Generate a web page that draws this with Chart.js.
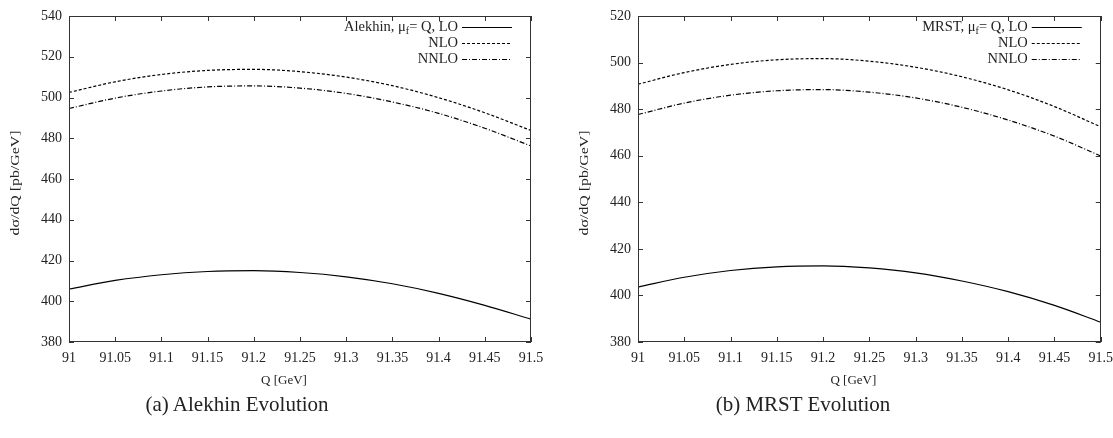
<!DOCTYPE html>
<html>
<head>
<meta charset="utf-8">
<script src="https://cdn.jsdelivr.net/npm/chart.js@4.4.0/dist/chart.umd.min.js"></script>
<style>
  body { margin: 0; background: #fff; width: 1113px; height: 438px; overflow: hidden; position: relative; font-family: "Liberation Serif", serif; }
  .box { position: absolute; top: 0; height: 400px; }
  #boxA { left: 0; width: 556px; }
  #boxB { left: 569px; width: 552px; }
  .cap { position: absolute; top: 392px; font-size: 21px; color: #222; transform: translateX(-50%); white-space: nowrap; }
</style>
</head>
<body>
<div class="box" id="boxA"><canvas id="chartA"></canvas></div>
<div class="box" id="boxB"><canvas id="chartB"></canvas></div>
<div class="cap" style="left:237px">(a) Alekhin Evolution</div>
<div class="cap" style="left:803px">(b) MRST Evolution</div>
<script>
// Q values (GeV) where the curves were read
const qValues = [91, 91.05, 91.1, 91.15, 91.2, 91.25, 91.3, 91.35, 91.4, 91.45, 91.5];
const qTicks = [91, 91.05, 91.1, 91.15, 91.2, 91.25, 91.3, 91.35, 91.4, 91.45, 91.5];

// Alekhin evolution
const alekhinLO   = [406.0, 410.2, 413.0, 414.6, 415.0, 414.1, 412.0, 408.6, 403.9, 398.0, 391.2];
const alekhinNLO  = [502.5, 507.7, 511.3, 513.3, 513.8, 512.7, 510.0, 505.8, 499.9, 492.5, 483.8];
const alekhinNNLO = [494.6, 499.7, 503.2, 505.2, 505.7, 504.6, 502.0, 497.8, 492.2, 484.9, 476.2];
const alekhinYTicks = [380, 400, 420, 440, 460, 480, 500, 520, 540];

// MRST evolution
const mrstLO   = [403.6, 407.8, 410.7, 412.3, 412.7, 411.8, 409.7, 406.2, 401.6, 395.7, 388.5];
const mrstNLO  = [490.7, 495.7, 499.2, 501.2, 501.7, 500.6, 498.0, 493.9, 488.3, 481.1, 472.4];
const mrstNNLO = [477.7, 482.6, 486.0, 487.9, 488.4, 487.3, 484.8, 480.8, 475.3, 468.4, 459.9];
const mrstYTicks = [380, 400, 420, 440, 460, 480, 500, 520];

const orderLabels = ['LO', 'NLO', 'NNLO'];
const dashes = [[], [3, 2], [5, 2, 1, 2]];

const FONT = '"Liberation Serif", "Times New Roman", serif';
const INK = '#222';

function pts(vals) {
  return qValues.map((q, i) => ({ x: q, y: vals[i] }));
}

// frame, inward ticks on all four sides, axis titles and the key
const framePlugin = {
  id: 'frame',
  afterDraw(chart) {
    const { ctx, chartArea: a, scales: { x, y } } = chart;
    const opts = chart.options.plugins.frame;
    ctx.save();
    ctx.strokeStyle = '#333';
    ctx.lineWidth = 1;
    ctx.strokeRect(Math.round(a.left) + 0.5, Math.round(a.top) + 0.5,
      Math.round(a.right - a.left) - 1, Math.round(a.bottom - a.top) - 1);
    ctx.beginPath();
    x.ticks.forEach(t => {
      const px = Math.round(x.getPixelForValue(t.value)) + 0.5;
      ctx.moveTo(px, a.bottom); ctx.lineTo(px, a.bottom - 5);
      ctx.moveTo(px, a.top); ctx.lineTo(px, a.top + 5);
    });
    y.ticks.forEach(t => {
      const py = Math.round(y.getPixelForValue(t.value)) + 0.5;
      ctx.moveTo(a.left, py); ctx.lineTo(a.left + 5, py);
      ctx.moveTo(a.right, py); ctx.lineTo(a.right - 5, py);
    });
    ctx.stroke();

    // axis titles
    ctx.fillStyle = INK;
    ctx.textAlign = 'center';
    ctx.textBaseline = 'middle';
    ctx.font = '13px ' + FONT;
    ctx.fillText(opts.xTitle, (a.left + a.right) / 2 - 16, 381);
    ctx.save();
    ctx.translate(16, 183);
    ctx.rotate(-Math.PI / 2);
    ctx.scale(1.22, 1);
    ctx.fillText(opts.yTitle, 0, 0);
    ctx.restore();

    // key
    const big = '14.5px ' + FONT, small = '10px ' + FONT;
    chart.data.datasets.forEach((ds, i) => {
      const yy = Math.round(a.top + 11 + i * 16) + 0.5;
      const xEnd = a.right - 73;
      if (i === 0) {
        const p1 = opts.head + ', \u03bc', p2 = 'f', p3 = '= Q, ' + ds.label;
        ctx.font = big; const w1 = ctx.measureText(p1).width, w3 = ctx.measureText(p3).width;
        ctx.font = small; const w2 = ctx.measureText(p2).width;
        let xx = xEnd - (w1 + w2 + w3);
        ctx.textAlign = 'left';
        ctx.font = big; ctx.fillText(p1, xx, yy); xx += w1;
        ctx.font = small; ctx.fillText(p2, xx, yy + 4); xx += w2;
        ctx.font = big; ctx.fillText(p3, xx, yy);
      } else {
        ctx.font = big; ctx.textAlign = 'right';
        ctx.fillText(ds.label, xEnd, yy);
      }
      ctx.strokeStyle = '#000';
      ctx.lineWidth = 1.2;
      ctx.setLineDash(ds.borderDash);
      ctx.beginPath();
      ctx.moveTo(a.right - 69, yy); ctx.lineTo(a.right - 19, yy);
      ctx.stroke();
      ctx.setLineDash([]);
    });
    ctx.restore();
  }
};

function makeChart(id, head, series, yTicks, padRight) {
  return new Chart(document.getElementById(id), {
    type: 'line',
    data: {
      datasets: series.map((vals, i) => ({
        label: orderLabels[i],
        data: pts(vals),
        borderColor: '#000',
        borderWidth: 1.2,
        borderDash: dashes[i],
        pointRadius: 0,
        fill: false,
        cubicInterpolationMode: 'monotone'
      }))
    },
    options: {
      responsive: true,
      maintainAspectRatio: false,
      animation: false,
      layout: { padding: { top: 16, right: padRight, bottom: 0, left: 0 } },
      plugins: {
        legend: { display: false },
        tooltip: { enabled: false },
        frame: { head: head, xTitle: 'Q [GeV]', yTitle: 'd\u03c3/dQ [pb/GeV]' }
      },
      scales: {
        x: {
          type: 'linear',
          min: qTicks[0],
          max: qTicks[qTicks.length - 1],
          afterBuildTicks: s => { s.ticks = qTicks.map(v => ({ value: v })); },
          afterFit: s => { s.height = 58; },
          grid: { display: false, drawTicks: false },
          border: { display: false },
          ticks: {
            padding: 8, color: INK, autoSkip: false, maxRotation: 0,
            font: { family: FONT, size: 14 },
            callback: v => String(+Number(v).toFixed(2))
          }
        },
        y: {
          min: yTicks[0],
          max: yTicks[yTicks.length - 1],
          afterBuildTicks: s => { s.ticks = yTicks.map(v => ({ value: v })); },
          afterFit: s => { s.width = 69; },
          grid: { display: false, drawTicks: false },
          border: { display: false },
          ticks: { padding: 7, color: INK, font: { family: FONT, size: 14 } }
        }
      }
    },
    plugins: [framePlugin]
  });
}

makeChart('chartA', 'Alekhin', [alekhinLO, alekhinNLO, alekhinNNLO], alekhinYTicks, 25);
makeChart('chartB', 'MRST', [mrstLO, mrstNLO, mrstNNLO], mrstYTicks, 12);
</script>
</body>
</html>
